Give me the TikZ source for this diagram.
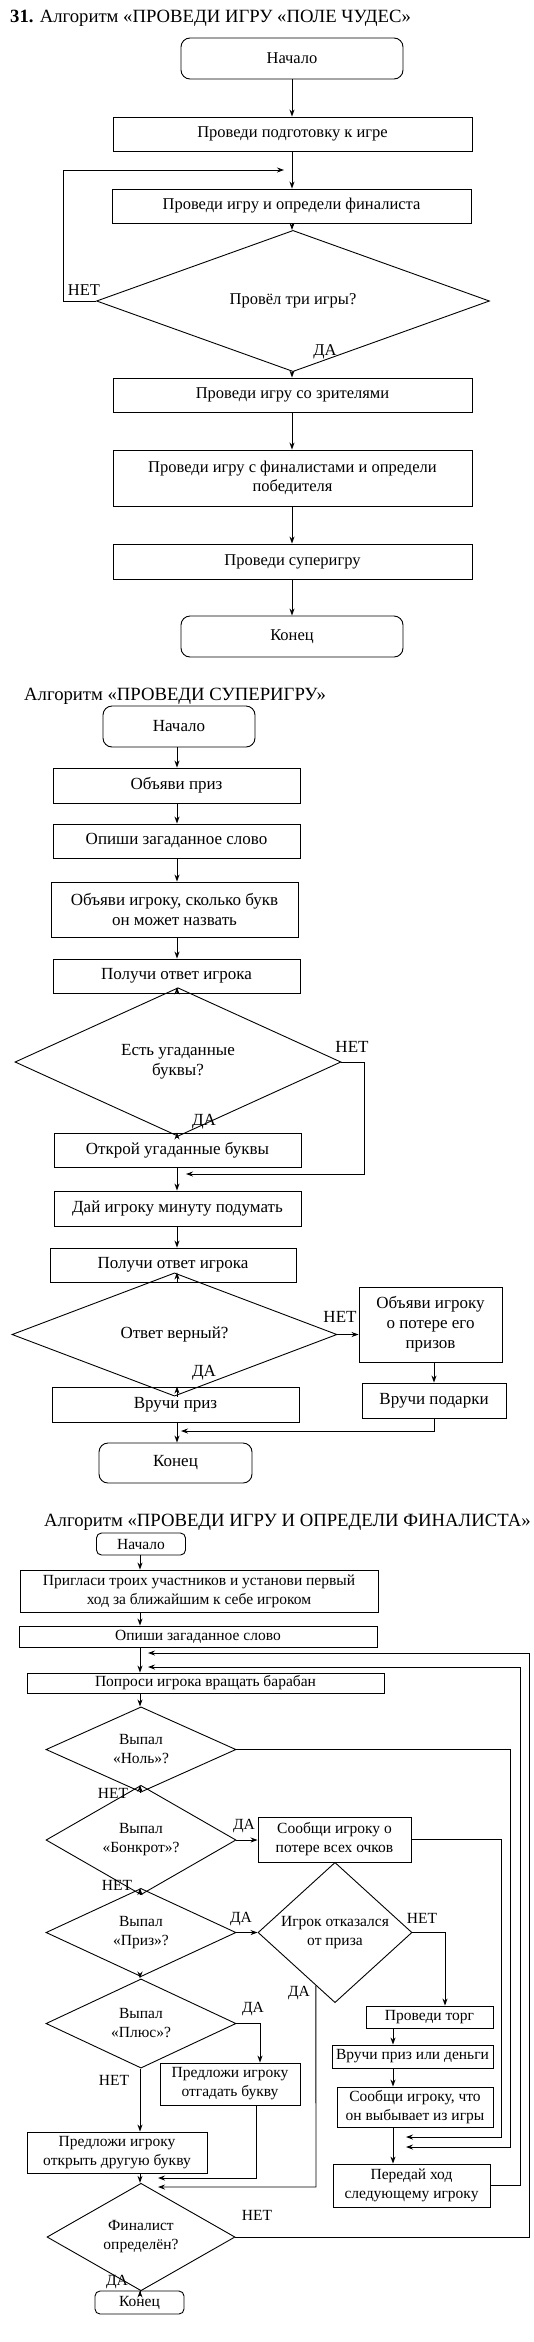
\documentclass[tikz,border=0pt]{standalone}
\usepackage{fontspec}
\setmainfont{Liberation Serif}
\usetikzlibrary{shapes.geometric,arrows.meta,calc}
\begin{document}
\begin{tikzpicture}[x=1pt,y=-1pt,
  fA/.style={font=\fontsize{16.5}{19}\selectfont},
  fB/.style={font=\fontsize{17}{20}\selectfont},
  fC/.style={font=\fontsize{15.5}{19}\selectfont},
  fT/.style={font=\fontsize{18.7}{20}\selectfont},
  box/.style={draw, rectangle, inner sep=0pt, align=center, line width=0.9pt},
  term/.style={box, rounded corners=9pt},
  termsm/.style={box, rounded corners=5pt},
  dec/.style={draw, diamond, inner sep=0pt, align=center, line width=0.9pt},
  arr/.style={-{Stealth[length=7pt,width=5pt]}, line width=0.9pt},
  ln/.style={line width=0.9pt},
  lab/.style={inner sep=0pt},
]
\useasboundingbox (0,0) rectangle (533,2342);

% ================= Algorithm 1 =================
\coordinate (m1) at (292,0);
\node[fT, anchor=west, inner sep=0pt] (t1) at (10,18) {\textbf{31.} Алгоритм «ПРОВЕДИ ИГРУ «ПОЛЕ ЧУДЕС»};
\node[term, fA, minimum width=222pt, minimum height=41pt] (a1s) at (292,58.5) {Начало};
\node[box, fA, minimum width=359pt, minimum height=34pt] (a1b1) at (292.5,134) {Проведи подготовку к игре};
\node[box, fA, minimum width=359pt, minimum height=34pt] (a1b2) at (291.5,206) {Проведи игру и определи финалиста};
\node[dec, fA, minimum width=393pt, minimum height=82pt] (a1d) at (293,301) {Провёл три игры?};
\node[box, fA, minimum width=359pt, minimum height=34pt] (a1b3) at (292.5,395) {Проведи игру со зрителями};
\node[box, fA, minimum width=359pt, minimum height=56pt] (a1b4) at (292.5,478) {Проведи игру с финалистами и определи\\победителя};
\node[box, fA, minimum width=359pt, minimum height=35pt] (a1b5) at (292.5,561.5) {Проведи суперигру};
\node[term, fA, minimum width=222pt, minimum height=41pt] (a1e) at (292,636.5) {Конец};

\draw[arr] (a1s.south -| m1) -- (a1b1.north -| m1);
\draw[arr] (a1b1.south -| m1) -- (a1b2.north -| m1);
\draw[arr] (a1b2.south -| m1) -- (a1d.north -| m1);
\draw[arr] (a1d.south -| m1) -- (a1b3.north -| m1);
\draw[arr] (a1b3.south -| m1) -- (a1b4.north -| m1);
\draw[arr] (a1b4.south -| m1) -- (a1b5.north -| m1);
\draw[arr] (a1b5.south -| m1) -- (a1e.north -| m1);
\coordinate (a1l) at (63,301);
\coordinate (a1lt) at (63,170);
\coordinate (a1lh) at (284,170);
\draw[arr] (a1d.west) -- (a1l) -- (a1lt) -- (a1lh);
\node[lab, fA] (l1) at (84,290) {НЕТ};
\node[lab, fA] (l2) at (325,352) {ДА};

% ================= Algorithm 2 =================
\coordinate (m2) at (177,0);
\node[fT, anchor=west, inner sep=0pt] (t2) at (24,696) {Алгоритм «ПРОВЕДИ СУПЕРИГРУ»};
\node[term, fB, minimum width=152pt, minimum height=41pt] (a2s) at (179,726.5) {Начало};
\node[box, fB, minimum width=247pt, minimum height=35pt] (a2b1) at (176.5,785.5) {Объяви приз};
\node[box, fB, minimum width=247pt, minimum height=34pt] (a2b2) at (176.5,841) {Опиши загаданное слово};
\node[box, fB, minimum width=247pt, minimum height=55pt] (a2b3) at (174.5,909.5) {Объяви игроку, сколько букв\\он может назвать};
\node[box, fB, minimum width=247pt, minimum height=34pt] (a2b4) at (176.5,976) {Получи ответ игрока};
\node[dec, fB, minimum width=326pt, minimum height=92pt] (a2d1) at (178,1062) {Есть угаданные\\буквы?};
\node[box, fB, minimum width=247pt, minimum height=34pt] (a2b5) at (177.5,1150) {Открой угаданные буквы};
\node[box, fB, minimum width=247pt, minimum height=35pt] (a2b6) at (177.5,1208.5) {Дай игроку минуту подумать};
\node[box, fB, minimum width=246pt, minimum height=34pt] (a2b7) at (173,1265) {Получи ответ игрока};
\node[dec, fB, minimum width=325pt, minimum height=61pt] (a2d2) at (174.5,1334.5) {Ответ верный?};
\node[box, fB, minimum width=143pt, minimum height=75pt] (a2b8) at (430.5,1324.5) {Объяви игроку\\о потере его\\призов};
\node[box, fB, minimum width=247pt, minimum height=35pt] (a2b9) at (175.5,1404.5) {Вручи приз};
\node[box, fB, minimum width=144pt, minimum height=35pt] (a2b10) at (434,1400.5) {Вручи подарки};
\node[term, fB, minimum width=153pt, minimum height=40pt] (a2e) at (175.5,1463) {Конец};

\draw[arr] (a2s.south -| m2) -- (a2b1.north -| m2);
\draw[arr] (a2b1.south -| m2) -- (a2b2.north -| m2);
\draw[arr] (a2b2.south -| m2) -- (a2b3.north -| m2);
\draw[arr] (a2b3.south -| m2) -- (a2b4.north -| m2);
\draw[arr] (a2b4.south -| m2) -- (a2d1.north -| m2);
\draw[arr] (a2d1.south -| m2) -- (a2b5.north -| m2);
\draw[arr] (a2b5.south -| m2) -- (a2b6.north -| m2);
\draw[arr] (a2b6.south -| m2) -- (a2b7.north -| m2);
\draw[arr] (a2b7.south -| m2) -- (a2d2.north -| m2);
\draw[arr] (a2d2.south -| m2) -- (a2b9.north -| m2);
\draw[arr] (a2b9.south -| m2) -- (a2e.north -| m2);
\coordinate (a2n1) at (364,1062);
\coordinate (a2n2) at (364,1174);
\coordinate (a2n3) at (186,1174);
\draw[arr] (a2d1.east) -- (a2n1) -- (a2n2) -- (a2n3);
\draw[arr] (a2d2.east) -- (a2d2.east -| a2b8.west);
\coordinate (a2g) at (434,0);
\draw[arr] (a2b8.south -| a2g) -- (a2b10.north -| a2g);
\coordinate (a2r1) at (434,1431);
\coordinate (a2r2) at (181,1431);
\draw[arr] (a2b10.south -| a2g) -- (a2r1) -- (a2r2);
\node[lab, fB] (l3) at (352,1047) {НЕТ};
\node[lab, fB] (l4) at (204,1122) {ДА};
\node[lab, fB] (l5) at (340,1317) {НЕТ};
\node[lab, fB] (l6) at (204,1373) {ДА};

% ================= Algorithm 3 =================
\coordinate (m3) at (140,0);
\coordinate (m4) at (393,0);
\node[fT, anchor=west, inner sep=0pt] (t3) at (44,1522) {Алгоритм «ПРОВЕДИ ИГРУ И ОПРЕДЕЛИ ФИНАЛИСТА»};
\node[termsm, fC, minimum width=89pt, minimum height=22pt] (a3s) at (141,1544) {Начало};
\node[box, fC, minimum width=358pt, minimum height=42pt] (a3b1) at (199,1591) {Пригласи троих участников и установи первый\\ход за ближайшим к себе игроком};
\node[box, fC, minimum width=358pt, minimum height=21pt] (a3b2) at (198,1636.5) {Опиши загаданное слово};
\node[box, fC, minimum width=357pt, minimum height=20pt] (a3b3) at (205.5,1683) {Попроси игрока вращать барабан};
\node[dec, fC, minimum width=190pt, minimum height=75pt] (a3d1) at (141,1749.5) {Выпал\\«Ноль»?};
\node[dec, fC, minimum width=190pt, minimum height=76pt] (a3d2) at (141,1840) {Выпал\\«Бонкрот»?};
\node[box, fC, minimum width=153pt, minimum height=45pt] (a3b4) at (334.5,1839.5) {Сообщи игроку о\\потере всех очков};
\node[dec, fC, minimum width=190pt, minimum height=77pt] (a3d3) at (141,1932.5) {Выпал\\«Приз»?};
\node[dec, fC, minimum width=154pt, minimum height=111pt] (a3d4) at (335,1932.5) {Игрок отказался\\от приза};
\node[dec, fC, minimum width=190pt, minimum height=73pt] (a3d5) at (141,2023.5) {Выпал\\«Плюс»?};
\node[box, fC, minimum width=140pt, minimum height=42pt] (a3b5) at (230,2084) {Предложи игроку\\отгадать букву};
\node[box, fC, minimum width=180pt, minimum height=41pt] (a3b6) at (117,2152.5) {Предложи игроку\\открыть другую букву};
\node[dec, fC, minimum width=188pt, minimum height=76pt] (a3d6) at (141,2237) {Финалист\\определён?};
\node[termsm, fC, minimum width=89pt, minimum height=23pt] (a3e) at (139.5,2302.5) {Конец};
\node[box, fC, minimum width=127pt, minimum height=22pt] (a3r1) at (429.5,2017) {Проведи торг};
\node[box, fC, minimum width=161pt, minimum height=23pt] (a3r2) at (412.5,2056.5) {Вручи приз или деньги};
\node[box, fC, minimum width=156pt, minimum height=40pt] (a3r3) at (415,2107) {Сообщи игроку, что\\он выбывает из игры};
\node[box, fC, minimum width=157pt, minimum height=43pt] (a3r4) at (411.5,2185.5) {Передай ход\\следующему игроку};

\draw[arr] (a3s.south -| m3) -- (a3b1.north -| m3);
\draw[arr] (a3b1.south -| m3) -- (a3b2.north -| m3);
\draw[arr] (a3b2.south -| m3) -- (a3b3.north -| m3);
\draw[arr] (a3b3.south -| m3) -- (a3d1.north -| m3);
\draw[arr] (a3d1.south -| m3) -- (a3d2.north -| m3);
\draw[arr] (a3d2.south -| m3) -- (a3d3.north -| m3);
\draw[arr] (a3d3.south -| m3) -- (a3d5.north -| m3);
\draw[arr] (a3d5.south -| m3) -- (a3b6.north -| m3);
\draw[arr] (a3b6.south -| m3) -- (a3d6.north -| m3);
\draw[arr] (a3d6.south -| m3) -- (a3e.north -| m3);
% right column
\draw[arr] (a3r1.south -| m4) -- (a3r2.north -| m4);
\draw[arr] (a3r2.south -| m4) -- (a3r3.north -| m4);
\draw[arr] (a3r3.south -| m4) -- (a3r4.north -| m4);
% Ноль -> ДА
\coordinate (n1) at (510,1749.5);
\coordinate (n2) at (510,2147);
\coordinate (n3) at (406,2147);
\draw[arr] (a3d1.east) -- (n1) -- (n2) -- (n3);
% Бонкрот
\draw[arr] (a3d2.east) -- (a3d2.east -| a3b4.west);
\coordinate (b1) at (501,1839.5);
\coordinate (b2) at (501,2137);
\coordinate (b3) at (406,2137);
\draw[arr] (a3b4.east) -- (b1) -- (b2) -- (b3);
% Приз
\draw[arr] (a3d3.east) -- (a3d4.west);
\coordinate (p1) at (445,1932.5);
\draw[arr] (a3d4.east) -- (p1) -- (p1 |- a3r1.north);
\coordinate (q0) at ($(a3d4.west)!0.753!(a3d4.south)$);
\coordinate (q1) at (316,2187);
\coordinate (q2) at (158,2187);
\draw[arr] (q0) -- (q1) -- (q2);
% Плюс
\coordinate (s1) at (260,2023.5);
\draw[arr] (a3d5.east) -- (s1) -- (s1 |- a3b5.north);
\coordinate (s2) at (256,0);
\coordinate (s3) at (256,2178);
\coordinate (s4) at (158,2178);
\draw[arr] (a3b5.south -| s2) -- (s3) -- (s4);
% Передай ход -> back
\coordinate (r1) at (520,2185.5);
\coordinate (r2) at (520,1667);
\coordinate (r3) at (148,1667);
\draw[arr] (a3r4.east) -- (r1) -- (r2) -- (r3);
% Финалист НЕТ -> back
\coordinate (f1) at (529,2237);
\coordinate (f2) at (529,1653);
\coordinate (f3) at (148,1653);
\draw[arr] (a3d6.east) -- (f1) -- (f2) -- (f3);

\node[lab, fC] (k1) at (113,1793) {НЕТ};
\node[lab, fC] (k2) at (244,1826) {ДА};
\node[lab, fC] (k3) at (117,1885) {НЕТ};
\node[lab, fC] (k4) at (241,1919) {ДА};
\node[lab, fC] (k5) at (422,1918) {НЕТ};
\node[lab, fC] (k6) at (299,1993) {ДА};
\node[lab, fC] (k7) at (253,2009) {ДА};
\node[lab, fC] (k8) at (114,2080) {НЕТ};
\node[lab, fC] (k9) at (257,2215) {НЕТ};
\node[lab, fC] (k10) at (117,2282) {ДА};
\end{tikzpicture}
\end{document}
